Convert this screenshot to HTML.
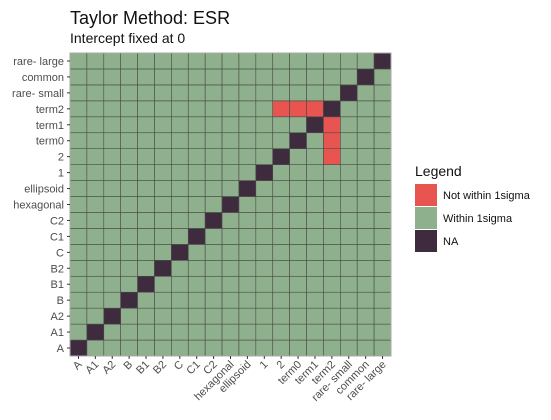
<!DOCTYPE html>
<html><head><meta charset="utf-8"><style>
body{margin:0;background:#fff;font-family:"Liberation Sans",sans-serif}
svg text{font-family:"Liberation Sans",sans-serif}
</style></head><body>
<svg id="c" width="551" height="415">
<text x="70" y="24" font-size="18" fill="#111">Taylor Method: ESR</text>
<text x="70" y="43" font-size="14" fill="#111">Intercept fixed at 0</text>
<g id="cells"></g>
<g id="axes"></g>
<g>
<text x="415" y="176" font-size="14" fill="#111">Legend</text>
<rect x="415" y="184" width="22" height="22" fill="#e8544f"/>
<text x="443" y="199" font-size="11" fill="#111">Not within 1sigma</text>
<rect x="415" y="207" width="22" height="22" fill="#8fb08c"/>
<text x="443" y="222" font-size="11" fill="#111">Within 1sigma</text>
<rect x="415" y="230" width="22" height="22" fill="#3f2b3e"/>
<text x="443" y="245" font-size="11" fill="#111">NA</text>
</g>
</svg>
<script>
const categories=["A","A1","A2","B","B1","B2","C","C1","C2","hexagonal","ellipsoid","1","2","term0","term1","term2","rare- small","common","rare- large"];
const notWithinX=["2","term0","term1","term2","term2","term2"];
const notWithinY=["term2","term2","term2","term1","term0","2"];
const L=70,R=391,T=53,B=356,n=categories.length;
const cw=(R-L)/n,ch=(B-T)/n;
const xs=c=>L+categories.indexOf(c)*cw;
const ys=c=>B-(categories.indexOf(c)+1)*ch;
const NS="http://www.w3.org/2000/svg";
const cells=document.getElementById('cells'),axes=document.getElementById('axes');
function mk(tag,at,parent){const e=document.createElementNS(NS,tag);for(const k in at)e.setAttribute(k,at[k]);parent.appendChild(e);return e;}
const red=new Set(notWithinX.map((x,i)=>x+'|'+notWithinY[i]));
categories.forEach(cx=>{categories.forEach(cy=>{
 let fill='#8fb08c';
 if(cx===cy)fill='#3f2b3e';else if(red.has(cx+'|'+cy))fill='#e8544f';
 const r=mk('rect',{x:xs(cx),y:ys(cy),width:cw,height:ch,fill:fill,stroke:'#4a4a4a','stroke-width':0.6},cells);
 
 
});});
const fr=mk('rect',{x:L,y:T,width:R-L,height:B-T,fill:'none',stroke:'#aaa','stroke-width':1},axes);


categories.forEach(c=>{
 const y=ys(c)+ch/2;
 mk('line',{x1:L-3,x2:L,y1:y,y2:y,stroke:'#333'},axes);
 const t=mk('text',{x:L-6,y:y+4,'text-anchor':'end','font-size':11,fill:'#4d4d4d'},axes);
 t.textContent=c;
 
 
 const x=xs(c)+cw/2;
 mk('line',{x1:x,x2:x,y1:B,y2:B+3,stroke:'#333'},axes);
 const u=mk('text',{x:x+4,y:B+9,'text-anchor':'end','font-size':11,fill:'#4d4d4d',transform:`rotate(-45 ${x+4} ${B+9})`},axes);
 u.textContent=c;
 
 
});
</script>
</body></html>
